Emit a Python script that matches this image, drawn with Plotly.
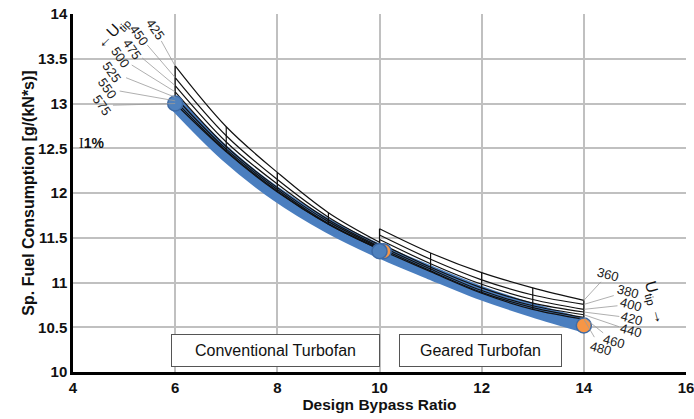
import plotly.graph_objects as go

# ---------------- data ----------------
bpr_conv = [6, 7, 8, 9, 10]
utip_conv = [425, 450, 475, 500, 525, 550, 575]
sfc_conv = [
    [13.42, 12.74, 12.23, 11.78, 11.45],
    [13.29, 12.64, 12.15, 11.73, 11.42],
    [13.20, 12.57, 12.10, 11.70, 11.40],
    [13.13, 12.52, 12.06, 11.68, 11.39],
    [13.07, 12.49, 12.04, 11.66, 11.38],
    [13.03, 12.47, 12.02, 11.65, 11.37],
    [13.00, 12.46, 12.01, 11.65, 11.37],
]

bpr_geared = [10, 11, 12, 13, 14]
utip_geared = [360, 380, 400, 420, 440, 460, 480]
sfc_geared = [
    [11.60, 11.33, 11.11, 10.94, 10.80],
    [11.53, 11.26, 11.03, 10.86, 10.755],
    [11.48, 11.21, 10.98, 10.81, 10.70],
    [11.44, 11.17, 10.94, 10.77, 10.67],
    [11.41, 11.15, 10.91, 10.74, 10.64],
    [11.39, 11.13, 10.89, 10.72, 10.61],
    [11.37, 11.12, 10.88, 10.70, 10.59],
]

opt_bpr = [6, 7, 8, 9, 10, 11, 12, 13, 14]
opt_sfc = [13.00, 12.43, 11.98, 11.63, 11.35, 11.11, 10.88, 10.69, 10.52]

design_conv_bpr = [6, 10]
design_conv_sfc = [13.00, 11.35]
design_geared_bpr = [10.08, 14]
design_geared_sfc = [11.35, 10.52]

FONT = "Liberation Sans, Arial"

# ---------------- figure ----------------
fig = go.Figure()

fig.add_trace(go.Scatter(x=opt_bpr, y=opt_sfc, mode="lines",
                         line=dict(color="#4a7ebf", width=14, shape="spline"),
                         hoverinfo="skip", showlegend=False))

def family(bprs, utips, table):
    for row in table:
        fig.add_trace(go.Scatter(x=bprs, y=row, mode="lines",
                                 line=dict(color="#111111", width=1.2, shape="spline"),
                                 showlegend=False, hoverinfo="skip"))
    for j, b in enumerate(bprs):
        col = [row[j] for row in table]
        fig.add_trace(go.Scatter(x=[b] * len(col), y=col, mode="lines",
                                 line=dict(color="#111111", width=1.2),
                                 showlegend=False, hoverinfo="skip"))

family(bpr_conv, utip_conv, sfc_conv)
family(bpr_geared, utip_geared, sfc_geared)

fig.add_trace(go.Scatter(x=design_geared_bpr, y=design_geared_sfc, mode="markers",
                         marker=dict(size=15, color="#f79646",
                                     line=dict(color="#3d6aa6", width=1.5)),
                         showlegend=False))
fig.add_trace(go.Scatter(x=design_conv_bpr, y=design_conv_sfc, mode="markers",
                         marker=dict(size=15, color="#4f81bd",
                                     line=dict(color="#3d6aa6", width=1.5)),
                         showlegend=False))

ann = []
lab_font = dict(family=FONT, size=13, color="#222")
left_off = [(-20, -36), (-36, -42), (-43, -36), (-55, -34), (-63, -25), (-68, -12), (-73, 2)]
for i, u in enumerate(utip_conv):
    ax, ay = left_off[i]
    ann.append(dict(x=bpr_conv[0], y=sfc_conv[i][0], text=str(u), textangle=55,
                    showarrow=True, arrowhead=0, arrowwidth=0.8, arrowcolor="#9a9a9a",
                    ax=ax, ay=ay, standoff=0, font=lab_font))
right_off = [(24, -26), (44, -13), (47, -5), (48, 6), (47, 16), (30, 24), (17, 29)]
for i, u in enumerate(utip_geared):
    ax, ay = right_off[i]
    ann.append(dict(x=bpr_geared[-1], y=sfc_geared[i][-1], text=str(u), textangle=15,
                    showarrow=True, arrowhead=0, arrowwidth=0.8, arrowcolor="#9a9a9a",
                    ax=ax, ay=ay, standoff=0, font=lab_font))

ann.append(dict(x=4.78, y=13.79, text="←U<sub>tip</sub>",
                textangle=-45, showarrow=False,
                font=dict(family=FONT, size=16, color="#111")))
ann.append(dict(x=15.40, y=10.77, text="U<sub>tip</sub> →",
                textangle=75, showarrow=False,
                font=dict(family=FONT, size=16, color="#111")))
ann.append(dict(x=4.37, y=12.56,
                text="<span style='font-family:Liberation Serif'>I</span><b>1%</b>",
                showarrow=False, font=dict(family=FONT, size=14, color="#111")))

box_font = dict(family=FONT, size=16, color="#111")
ann.append(dict(x=7.96, y=10.24, text="Conventional Turbofan", showarrow=False,
                font=box_font, bgcolor="white", bordercolor="#555", borderwidth=1,
                width=205, height=29, borderpad=1))
ann.append(dict(x=11.97, y=10.24, text="Geared Turbofan", showarrow=False,
                font=box_font, bgcolor="white", bordercolor="#555", borderwidth=1,
                width=159, height=29, borderpad=1))

fig.update_layout(
    width=694, height=419,
    margin=dict(l=73, r=8, t=14, b=47),
    paper_bgcolor="white", plot_bgcolor="white",
    annotations=ann,
    font=dict(family=FONT, color="#111"),
)
fig.update_xaxes(range=[4, 16], dtick=2, showgrid=True, gridcolor="#c0c0c0", gridwidth=1.5,
                 showline=True, linecolor="black", linewidth=2.5, zeroline=False,
                 automargin=False, ticklabeloverflow="allow", ticks="",
                 tickfont=dict(size=15, family=FONT),
                 tickprefix="<b>", ticksuffix="</b>",
                 title=dict(text="<b>Design Bypass Ratio</b>", font=dict(size=15.5), standoff=4))
fig.update_yaxes(range=[10, 14], dtick=0.5, showgrid=True, gridcolor="#c0c0c0", gridwidth=1.5,
                 showline=True, linecolor="black", linewidth=2.5, zeroline=False,
                 automargin=False, ticklabeloverflow="allow", ticks="",
                 tickfont=dict(size=15, family=FONT),
                 tickprefix="<b>", ticksuffix="</b>",
                 title=dict(text="<b>Sp. Fuel Consumption [g/(kN*s)]</b>", font=dict(size=16),
                            standoff=0))

fig.write_html("out.html", config={"displayModeBar": False},
               post_script="document.body.style.margin='0';document.body.style.overflow='hidden';")
